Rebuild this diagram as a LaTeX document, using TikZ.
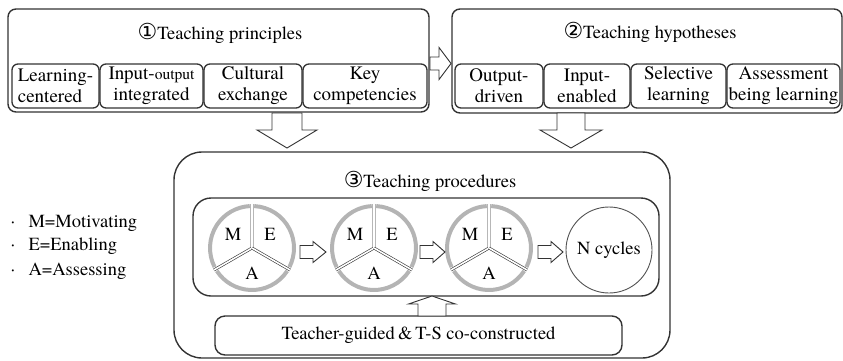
\documentclass[tikz,border=0pt]{standalone}
\usepackage{fontspec}
\setmainfont{TeX Gyre Termes}
\newfontfamily\circfont{DejaVu Sans}
\definecolor{ln}{HTML}{333333}
\definecolor{rg}{HTML}{B4B4B4}
\newcommand\barrowH[6]{%
  \draw[blk] ({#1},{#3-#4}) -- ({#6},{#3-#4}) -- ({#6},{#3-#5}) -- ({#2},{#3})
    -- ({#6},{#3+#5}) -- ({#6},{#3+#4}) -- ({#1},{#3+#4}) -- cycle;}
\newcommand\barrowV[6]{%
  \draw[blk] ({#3-#4},{#1}) -- ({#3-#4},{#6}) -- ({#3-#5},{#6}) -- ({#3},{#2})
    -- ({#3+#5},{#6}) -- ({#3+#4},{#6}) -- ({#3+#4},{#1}) -- cycle;}
\newcommand\circnum[1]{{\circfont\fontsize{22}{22}\selectfont #1}}
\begin{document}
\begin{tikzpicture}[x=1pt,y=-1pt,
  font=\fontsize{18.5}{20.5}\selectfont,
  box/.style={draw=ln, line width=1.4pt, rounded corners=8pt},
  sub/.style={draw=ln, line width=1.3pt, rounded corners=6pt, align=center, inner sep=0pt, minimum height=44pt, font=\fontsize{19}{21}\selectfont},
  blk/.style={draw=ln, line width=0.9pt, fill=white, line join=miter},
  ring/.style={draw=rg, line width=4pt},
  divider/.style={draw=ln, line width=0.6pt, double=white, double distance=1.6pt},
  mea/.pic={
    \draw[ring] (153:42) arc (153:267:42);
    \draw[ring] (273:42) arc (273:387:42);
    \draw[ring] (33:42) arc (33:147:42);
    \draw[divider] (270:44) -- (0,0) -- (150:44);
    \draw[divider] (0,0) -- (30:44);
    \node at (-19,-14) {M};
    \node at (18,-14) {E};
    \node at (0,25) {A};
  }
]
\useasboundingbox (0,0) rectangle (843,360);

% Box 1
\node[box, minimum width=421pt, minimum height=103pt] (prin) at (218.5,60.5) {};
\node[anchor=base] (prinT) at (220,39) {\circnum{①}Teaching principles};
\node[sub, align=left, minimum width=87pt] (p1) at (55.5,86) {Learning-\\centered};
\node[sub, minimum width=103pt] (p2) at (151.5,86) {Input-{\fontsize{15.5}{15.5}\selectfont output}\\integrated};
\node[sub, minimum width=98pt] (p3) at (253,86) {Cultural\\exchange};
\node[sub, minimum width=124pt] (p4) at (365,86) {Key\\competencies};

% Box 2
\node[box, minimum width=390pt, minimum height=104pt] (hyp) at (647,61) {};
\node[anchor=base] (hypT) at (650,38) {\circnum{②}Teaching hypotheses};
\node[sub, minimum width=88pt] (h1) at (499,86) {Output-\\driven};
\node[sub, minimum width=86pt] (h2) at (587,86) {Input-\\enabled};
\node[sub, minimum width=95pt] (h3) at (678.5,86) {Selective\\learning};
\node[sub, minimum width=113pt] (h4) at (783.5,86) {Assessment\\being learning};

% arrows between top boxes
\barrowH{430}{451}{63.5}{6.5}{16}{439}
\barrowV{113}{148}{287}{15}{30}{130}
\barrowV{113}{148}{571}{14}{31}{130}

% Box 3
\node[box, rounded corners=28pt, minimum width=496pt, minimum height=206pt] (proc) at (422,255) {};
\node[anchor=base] (procT) at (430,187) {\circnum{③}Teaching procedures};
\node[box, rounded corners=18pt, minimum width=466pt, minimum height=98pt] (cyc) at (426,247) {};
\node[box, rounded corners=10pt, minimum width=407pt, minimum height=39pt] (tg) at (418.5,335.5) {Teacher-guided\,\&\,T-S co-constructed};

% MEA circles
\node[circle, minimum size=88pt, inner sep=0pt] (m1) at (252,248) {};
\node[circle, minimum size=88pt, inner sep=0pt] (m2) at (374,248) {};
\node[circle, minimum size=88pt, inner sep=0pt] (m3) at (489,248) {};
\pic at (m1) {mea};
\pic at (m2) {mea};
\pic at (m3) {mea};
\node[circle, draw=ln!85, line width=0.9pt, minimum size=86pt, inner sep=0pt] (nc) at (609,250) {N cycles};

\barrowH{300}{326}{252}{6.5}{10.5}{313}
\barrowH{420}{445}{252}{6.5}{10.5}{433}
\barrowH{538}{563}{252}{6.5}{10.5}{551}
\barrowV{316}{296}{432}{14}{23.5}{304}

% Legend
\node[anchor=base] (b1) at (13,227) {·};
\node[anchor=base west] (l1) at (25,227) {M=Motivating};
\node[anchor=base] (b2) at (13,250) {·};
\node[anchor=base west] (l2) at (25,250) {E=Enabling};
\node[anchor=base] (b3) at (13,275) {·};
\node[anchor=base west] (l3) at (25,275) {A=Assessing};
\end{tikzpicture}
\end{document}
